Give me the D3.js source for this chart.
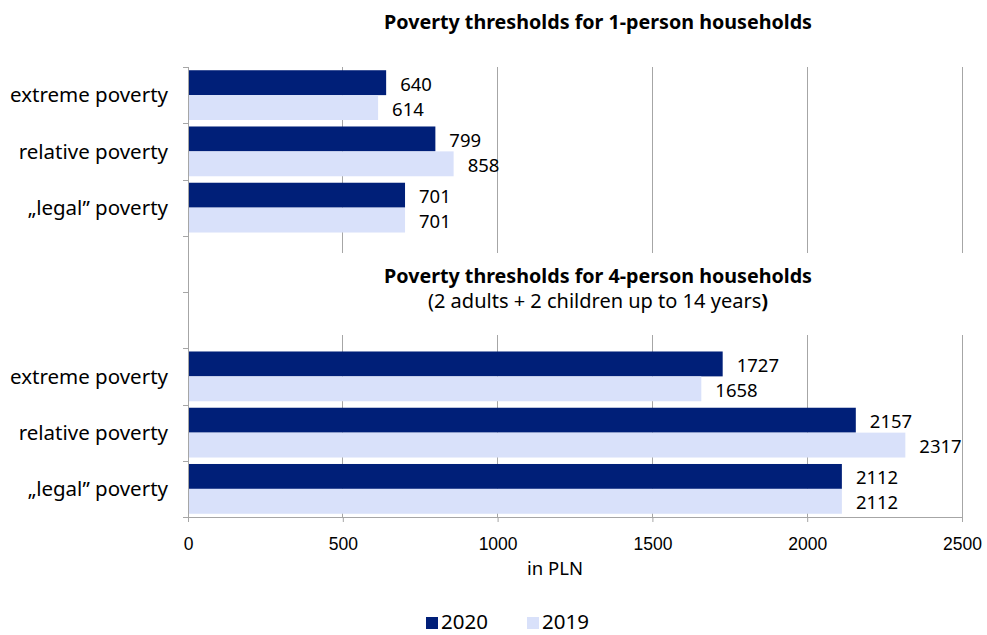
<!DOCTYPE html>
<html>
<head>
<meta charset="utf-8">
<script src="https://cdn.jsdelivr.net/npm/d3@7"></script>
<style>
  html, body { margin: 0; padding: 0; background: #fff; }
  svg { display: block; font-family: "Noto Sans", "Open Sans", sans-serif; }
</style>
</head>
<body>
<svg id="chart" width="987" height="635"></svg>
<script>
const categories = ["extreme poverty", "relative poverty", "\u201Elegal\u201D poverty"];
const series = ["2020", "2019"];
const onePerson2020 = [640, 799, 701];
const onePerson2019 = [614, 858, 701];
const fourPerson2020 = [1727, 2157, 2112];
const fourPerson2019 = [1658, 2317, 2112];
const xTicks = [0, 500, 1000, 1500, 2000, 2500];
const title1 = "Poverty thresholds for 1-person households";
const title2 = "Poverty thresholds for 4-person households";
const subtitle2 = "(2 adults + 2 children up to 14 years";
const xLabel = "in PLN";

const colors = { "2020": "#001f78", "2019": "#d9e1fa" };
const gridColor = "#a6a6a6";

const rows = [];
categories.forEach((c, i) => rows.push({ key: "a" + i, label: c, v: { "2020": onePerson2020[i], "2019": onePerson2019[i] } }));
rows.push({ key: "gap1" }, { key: "gap2" });
categories.forEach((c, i) => rows.push({ key: "b" + i, label: c, v: { "2020": fourPerson2020[i], "2019": fourPerson2019[i] } }));

const svg = d3.select("#chart");
const pLeft = 188, pRight = 962, pTop = 67, pBottom = 517;

const x = d3.scaleLinear().domain([0, 2500]).range([pLeft, pRight]);
const y = d3.scaleBand().domain(rows.map(r => r.key)).range([pTop, pBottom]).paddingInner(0).paddingOuter(0);
const ySub = d3.scaleBand().domain(series).range([0, y.bandwidth()]).paddingInner(0).paddingOuter(0.13);

// gridlines
const grid = svg.append("g");
grid.selectAll("line").data(xTicks.slice(1)).join("line")
  .attr("x1", d => x(d)).attr("x2", d => x(d))
  .attr("y1", pTop).attr("y2", pBottom)
  .attr("stroke", gridColor).attr("stroke-width", 1).attr("shape-rendering", "crispEdges");

// white box covering gridlines behind middle title
svg.append("rect").attr("x", pLeft + 1).attr("y", 253).attr("width", pRight - pLeft + 2).attr("height", 82).attr("fill", "#fff");

// bars
const barG = svg.append("g");
rows.filter(r => r.v).forEach(r => {
  series.forEach(s => {
    barG.append("rect")
      .attr("x", x(0))
      .attr("y", y(r.key) + ySub(s))
      .attr("width", x(r.v[s]) - x(0))
      .attr("height", ySub.bandwidth())
      .attr("fill", colors[s]);
    barG.append("text")
      .attr("x", x(r.v[s]) + 14)
      .attr("y", y(r.key) + ySub(s) + ySub.bandwidth() / 2 + 1.5)
      .attr("dy", "0.35em")
      .attr("font-size", 18.5)
      .attr("fill", "#000")
      .text(r.v[s]);
  });
});

// x axis
const xAxis = d3.axisBottom(x).tickValues(xTicks).tickSize(5).tickSizeOuter(0).tickFormat(d3.format("d"));
const xg = svg.append("g").attr("transform", `translate(0,${pBottom})`).call(xAxis);
xg.select(".domain").attr("stroke", gridColor);
xg.selectAll(".tick line").attr("stroke", gridColor);
xg.selectAll(".tick text").attr("font-size", 17.5).attr("fill", "#000").attr("dy", "1.4em").attr("font-family", "inherit");

// y axis (line + ticks at band boundaries)
const boundaries = rows.map(r => y(r.key)).concat([pBottom]);
const yg = svg.append("g");
yg.append("line").attr("x1", pLeft).attr("x2", pLeft).attr("y1", pTop).attr("y2", pBottom)
  .attr("stroke", gridColor).attr("shape-rendering", "crispEdges");
yg.selectAll("line.t").data(boundaries).join("line").attr("class", "t")
  .attr("x1", pLeft - 5).attr("x2", pLeft).attr("y1", d => Math.round(d) + 0.5).attr("y2", d => Math.round(d) + 0.5)
  .attr("stroke", gridColor);
yg.selectAll("text").data(rows.filter(r => r.label)).join("text")
  .attr("x", 168).attr("y", r => y(r.key) + y.bandwidth() / 2)
  .attr("dy", "0.35em").attr("text-anchor", "end").attr("font-size", 20.5).attr("fill", "#000")
  .text(r => r.label);

// titles
svg.append("text").attr("x", 598).attr("y", 29).attr("text-anchor", "middle")
  .attr("font-size", 19.7).attr("font-weight", "bold").text(title1);
svg.append("text").attr("x", 598).attr("y", 283).attr("text-anchor", "middle")
  .attr("font-size", 19.7).attr("font-weight", "bold").text(title2);
const st = svg.append("text").attr("x", 598).attr("y", 308).attr("text-anchor", "middle").attr("font-size", 20);
st.append("tspan").text(subtitle2);
st.append("tspan").attr("font-weight", "bold").text(")");

// x label
svg.append("text").attr("x", 555).attr("y", 575).attr("text-anchor", "middle").attr("font-size", 18.5).text(xLabel);

// legend
const legend = svg.append("g").attr("transform", "translate(426,617)");
const lx = [0, 101];
series.forEach((s, i) => {
  const g = legend.append("g").attr("transform", `translate(${lx[i]},0)`);
  g.append("rect").attr("width", 12).attr("height", 12).attr("fill", colors[s]);
  g.append("text").attr("x", 15).attr("y", 12).attr("font-size", 20.5).text(s);
});
</script>
</body>
</html>
